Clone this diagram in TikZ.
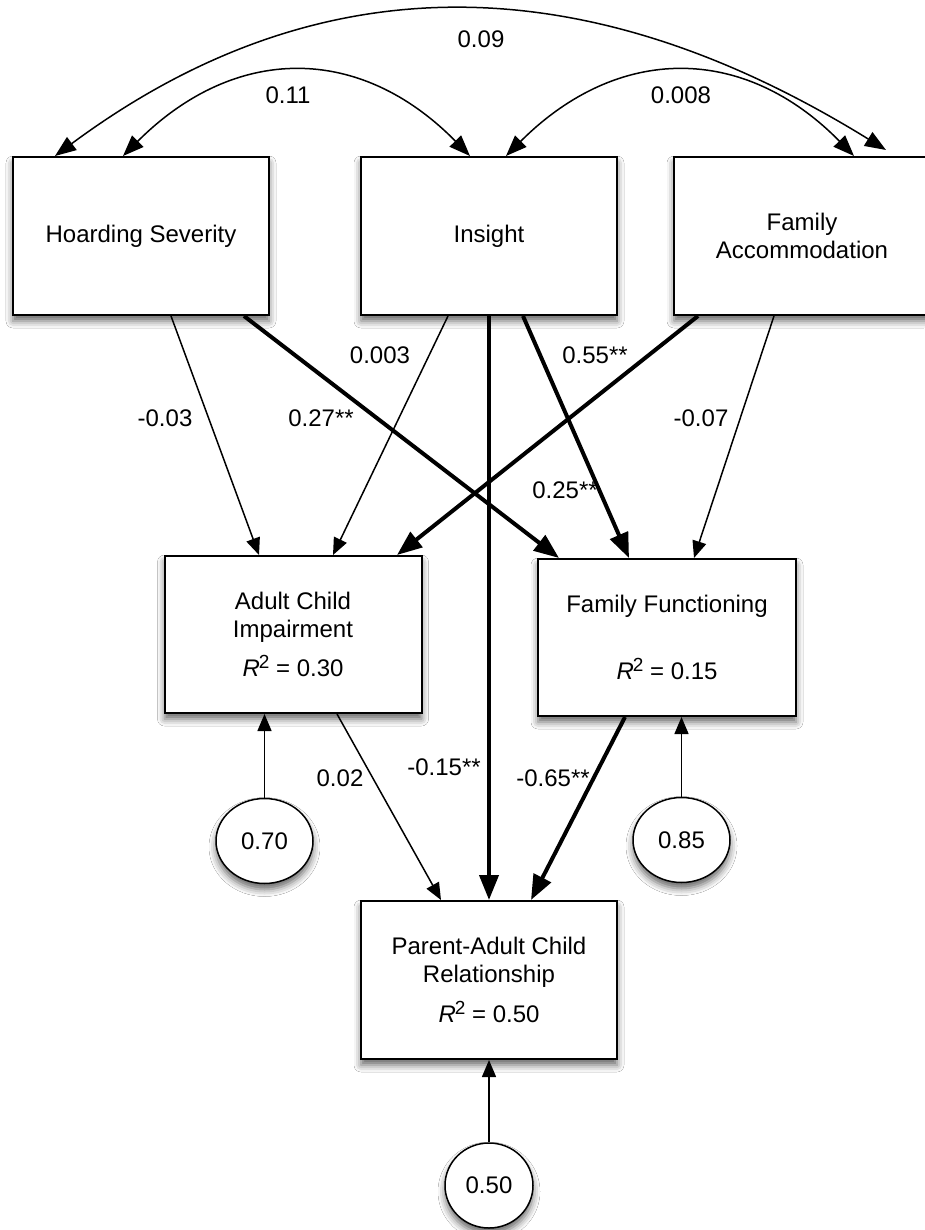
\documentclass[tikz,border=0pt]{standalone}
\usepackage{fontspec}
\setmainfont{Liberation Sans}
\usetikzlibrary{arrows.meta,shapes.geometric,shadows.blur,calc}
\newcommand{\Rsq}{\textit{R}\kern-1pt\raisebox{8.5pt}{\fontsize{19}{19}\selectfont 2}}
\begin{document}
\begin{tikzpicture}[x=1pt,y=1pt,
  every node/.style={font=\fontsize{24}{28}\selectfont},
  shad/.style={blur shadow={shadow xshift=0pt, shadow yshift=-6pt, shadow blur radius=7pt, shadow opacity=60}},
  box/.style={draw, line width=2pt, fill=white, minimum width=256pt, minimum height=158pt, align=center, inner sep=0pt, shad},
  res/.style={draw, ellipse, line width=1.5pt, fill=white, minimum width=97pt, minimum height=85pt, inner sep=0pt, shad},
  lnthin/.style={line width=1.5pt, -{Triangle[length=17pt,width=14pt]}},
  lnthick/.style={line width=4pt, -{Triangle[length=25pt,width=19pt]}},
  lnarc/.style={line width=1.5pt, {Triangle[length=21pt,width=16pt]}-{Triangle[length=21pt,width=16pt]}},
  lbl/.style={inner sep=0pt}
]
\path[use as bounding box, fill=white] (0,0) rectangle (924,-1230);

% boxes
\node[box] (hs) at (141,-236) {Hoarding Severity};
\node[box] (ins) at (489,-236) {Insight};
\node[box] (fa) at (802,-236) {Family\\Accommodation};
\node[box, minimum width=257pt, minimum height=157pt] (aci) at (293,-634.5) {Adult Child\\Impairment\\[11pt]\Rsq{} = 0.30};
\node[box, minimum width=258pt, minimum height=157pt] (ff) at (667,-637.5) {Family Functioning\\[39pt]\Rsq{} = 0.15};
\node[box] (pacr) at (489,-980) {Parent-Adult Child\\Relationship\\[12pt]\Rsq{} = 0.50};

% residuals
\node[res] (e70) at (264.5,-841) {0.70};
\node[res] (e85) at (681.5,-840) {0.85};
\node[res, minimum width=88pt] (e50) at (489,-1185.5) {0.50};

\draw[lnthin] (e70.north) -- (e70.north |- aci.south);
\draw[lnthin] (e85.north) -- (e85.north |- ff.south);
\draw[lnthin] (e50.north) -- (e50.north |- pacr.south);

% covariances
\draw[lnarc] ([xshift=111pt]hs.north west) .. controls (235,-44) and (360,-44) .. ([xshift=110pt]ins.north west);
\draw[lnarc] ([xshift=146pt]ins.north west) .. controls (618,-44) and (744,-44) .. ([xshift=181pt]fa.north west);
\draw[lnarc] ([xshift=43pt]hs.north west) .. controls (329,47) and (598,28) .. ([xshift=213pt,yshift=6pt]fa.north west);

% paths
\draw[lnthin] ([xshift=159pt]hs.south west) -- ([xshift=95.5pt]aci.north west);
\draw[lnthick] ([xshift=232pt]hs.south west) -- ([xshift=22pt]ff.north west);
\draw[lnthin] ([xshift=88pt]ins.south west) -- ([xshift=169.5pt]aci.north west);
\draw[lnthick] (ins.south) -- (pacr.north);
\draw[lnthick] ([xshift=163pt]ins.south west) -- ([xshift=92pt]ff.north west);
\draw[lnthick] ([xshift=25pt]fa.south west) -- ([xshift=233.5pt]aci.north west);
\draw[lnthin] ([xshift=101pt]fa.south west) -- ([xshift=157pt]ff.north west);
\draw[lnthin] ([xshift=173.5pt]aci.south west) -- ([xshift=81pt]pacr.north west);
\draw[lnthick] ([xshift=88pt]ff.south west) -- ([xshift=171pt]pacr.north west);

% labels
\node[lbl] (l09) at (481,-39) {0.09};
\node[lbl] (l11) at (288,-95) {0.11};
\node[lbl] (l008) at (681,-95) {0.008};
\node[lbl] (l003) at (380,-355) {0.003};
\node[lbl] (l55) at (595,-355) {0.55**};
\node[lbl] (l03) at (165,-418) {-0.03};
\node[lbl] (l27) at (321,-418) {0.27**};
\node[lbl] (l07) at (701,-418) {-0.07};
\node[lbl] (l25) at (565,-490) {0.25**};
\node[lbl] (l02) at (340,-778) {0.02};
\node[lbl] (l15) at (444,-767) {-0.15**};
\node[lbl] (l65) at (553,-778) {-0.65**};
\end{tikzpicture}
\end{document}
